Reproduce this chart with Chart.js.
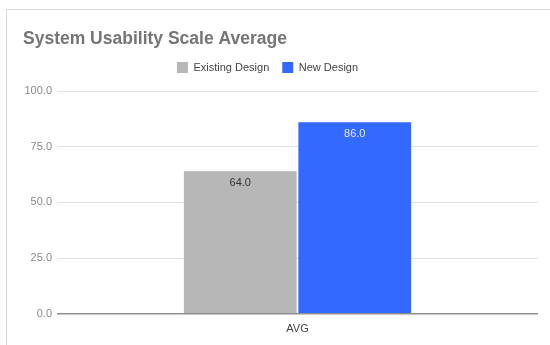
<!DOCTYPE html>
<html>
<head>
<meta charset="utf-8">
<script src="https://cdn.jsdelivr.net/npm/chart.js@4/dist/chart.umd.min.js"></script>
<style>
  body { margin: 0; background: #fff; }
  #frame {
    position: absolute; left: 6px; top: 9px;
    width: 544px; height: 336px;
    border-top: 1px solid #dadada; border-left: 1px solid #dadada;
  }
</style>
</head>
<body>
<div id="frame"><canvas id="chart-area"></canvas></div>
<script>
const categories = ['AVG'];
const seriesNames = ['Existing Design', 'New Design'];
const existingValues = [64.0];
const newValues = [86.0];
const yTicks = [0, 25, 50, 75, 100];

const fontFamily = '"Liberation Sans", Arial, sans-serif';

// draws the value inside the top of each bar
const barLabels = {
  id: 'barLabels',
  afterDatasetsDraw(chart) {
    const ctx = chart.ctx;
    const textColors = ['#333333', '#e6ecff'];
    ctx.save();
    ctx.font = '11px ' + fontFamily;
    ctx.textAlign = 'center';
    ctx.textBaseline = 'middle';
    chart.data.datasets.forEach((ds, i) => {
      const meta = chart.getDatasetMeta(i);
      meta.data.forEach((bar, j) => {
        ctx.fillStyle = textColors[i];
        ctx.fillText(ds.data[j].toFixed(1), bar.x, bar.y + 12);
      });
    });
    ctx.restore();
  }
};

// extra room under the legend, and legend nudged left like the original
const legendSpace = {
  id: 'legendSpace',
  beforeLayout(chart) {
    const legend = chart.legend;
    if (legend && !legend._patched) {
      const fit = legend.fit;
      legend.fit = function () {
        fit.call(this);
        this.height += 8;
      };
      legend._patched = true;
    }
  },
  afterLayout(chart) {
    chart.legend.left -= 13;
    chart.legend.right -= 13;
  }
};

const ctx = document.getElementById('chart-area').getContext('2d');
const config = {
  type: 'bar',
  data: {
    labels: categories,
    datasets: [{
      label: seriesNames[0],
      data: existingValues,
      backgroundColor: '#b7b7b7',
      categoryPercentage: 0.476,
      barPercentage: 0.985
    }, {
      label: seriesNames[1],
      data: newValues,
      backgroundColor: '#3369ff',
      categoryPercentage: 0.476,
      barPercentage: 0.985
    }]
  },
  options: {
    responsive: true,
    maintainAspectRatio: false,
    animation: false,
    layout: { padding: { left: 16, right: 13, top: 0, bottom: 9 } },
    plugins: {
      title: {
        display: true,
        text: 'System Usability Scale Average',
        align: 'start',
        color: '#757575',
        font: { family: fontFamily, size: 17.5, weight: 'bold' },
        padding: { top: 19, bottom: -1 }
      },
      legend: {
        display: true,
        labels: {
          boxWidth: 11,
          boxHeight: 11,
          color: '#444444',
          font: { family: fontFamily, size: 11 },
          padding: 13
        }
      },
      tooltip: { enabled: false }
    },
    scales: {
      x: {
        grid: { display: false },
        border: { display: false },
        ticks: { color: '#444444', font: { family: fontFamily, size: 11 }, padding: 1 }
      },
      y: {
        min: 0,
        max: 100,
        afterBuildTicks(axis) { axis.ticks = yTicks.map(v => ({ value: v })); },
        afterFit(axis) { axis.width = 34; },
        border: { display: false },
        grid: {
          drawTicks: false,
          color: c => c.tick.value === 0 ? '#8f8f8f' : '#e3e3e3',
          lineWidth: c => c.tick.value === 0 ? 1.5 : 1
        },
        ticks: {
          color: '#8a8a8a',
          font: { family: fontFamily, size: 11 },
          padding: 5,
          callback: v => v.toFixed(1)
        }
      }
    }
  },
  plugins: [legendSpace, barLabels]
};
window.myBar = new Chart(ctx, config);
</script>
</body>
</html>
